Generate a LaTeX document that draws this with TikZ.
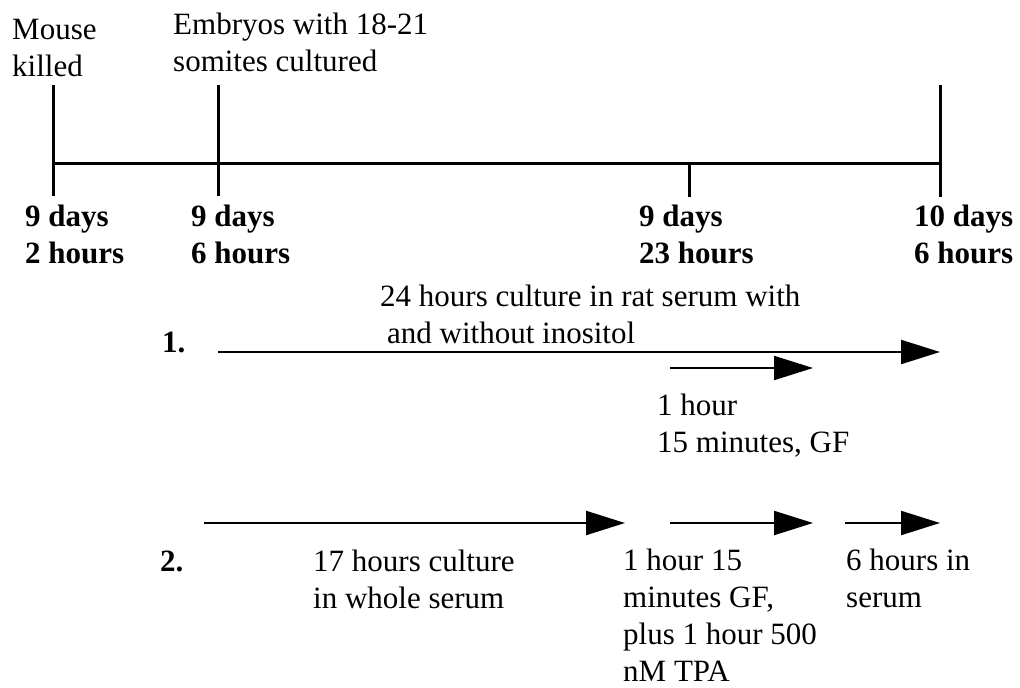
\documentclass[tikz,border=0pt]{standalone}
\usepackage{fontspec}
\setmainfont{Liberation Serif}
\usetikzlibrary{arrows.meta}
\newcommand{\timetick}[4] % name, x, top y, bottom y
{
	% vertical tick through the time line
	\coordinate (#1top) at (#2,#3);
	\coordinate (#1bot) at (#2,#4);
	\draw[line width=3pt] (#1top) -- (#1bot);
}
\newcommand{\period}[4] % name, start x, end x, y
{
	\coordinate (#1s) at (#2,#4);
	\coordinate (#1e) at (#3,#4);
	\draw[span] (#1s) -- (#1e);
}

\begin{document}
\begin{tikzpicture}[x=1pt, y=-1pt,
	txt/.style={anchor=base west, inner sep=0pt, align=left, font=\fontsize{31}{37}\selectfont},
	bold/.style={txt, font=\fontsize{31}{37}\selectfont\bfseries},
	span/.style={line width=2.2pt, -{Triangle[length=39pt, width=24pt]}}]
	% whole picture in px, y downwards
	% (base of a text = base of its last line)
	\useasboundingbox (0,0) rectangle (1020,688);
	
	% time line
	\coordinate (lineL) at (53,163);
	\coordinate (lineR) at (940,163);
	\draw[line width=3pt] (lineL) -- (lineR);
	\timetick{killed}{53}{85}{196};
	\timetick{start}{218}{85}{196};
	\timetick{gf}{689}{163}{197};
	\timetick{stop}{940}{85}{197};
	
	% events above the line
	\node[txt] (mouse) at (12,76) {Mouse\\killed};
	\node[txt] (embryos) at (173,71) {Embryos with 18-21\\somites cultured};
	
	% ages below the line
	\node[bold] (age1) at (25,263) {9 days\\2 hours};
	\node[bold] (age2) at (191,263) {9 days\\6 hours};
	\node[bold] (age3) at (639,263) {9 days\\23 hours};
	\node[bold] (age4) at (914,263) {10 days\\6 hours};
	
	% protocol 1
	\node[bold] (one) at (162,352) {1.};
	\node[txt] (rat) at (380,343) {24 hours culture in rat serum with\\\hspace*{7pt}and without inositol};
	\period{p1}{218}{940}{352};
	\period{p1gf}{670}{813}{368};
	\node[txt] (gf1) at (657,452) {1 hour\\15 minutes, GF};
	
	% protocol 2
	\node[bold] (two) at (160,571) {2.};
	\period{p2}{204}{625}{523};
	\period{p2gf}{670}{813}{523};
	\period{p2end}{845}{940}{523};
	\node[txt] (whole) at (313,608) {17 hours culture\\in whole serum};
	\node[txt] (gf2) at (623,681) {1 hour 15\\minutes GF,\\plus 1 hour 500\\nM TPA};
	\node[txt] (serum) at (846,607) {6 hours in\\serum};
	
\end{tikzpicture}
\end{document}
